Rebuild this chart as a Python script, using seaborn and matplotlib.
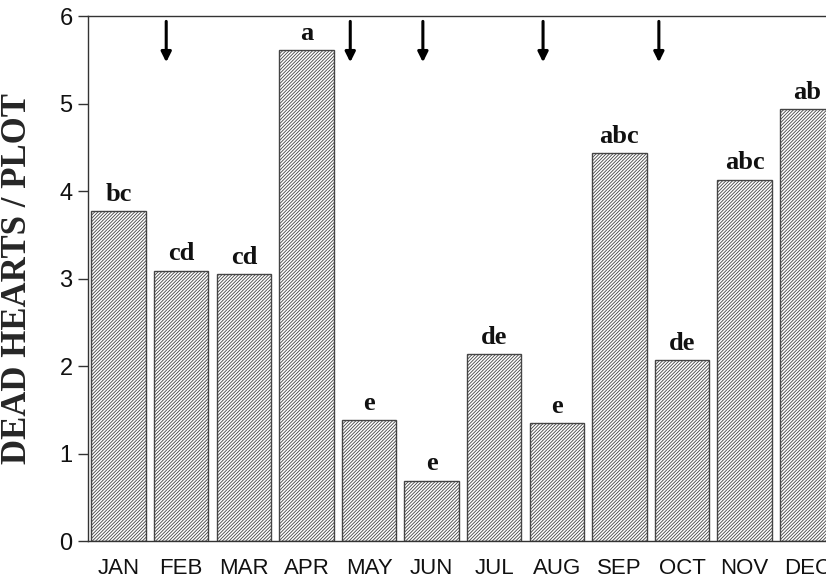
import matplotlib
matplotlib.use("Agg")
import matplotlib.pyplot as plt
import seaborn as sns
import pandas as pd

months = ["JAN", "FEB", "MAR", "APR", "MAY", "JUN", "JUL", "AUG", "SEP", "OCT", "NOV", "DEC"]
dead_hearts = [3.77, 3.09, 3.05, 5.61, 1.38, 0.69, 2.14, 1.35, 4.43, 2.07, 4.13, 4.94]
letters = ["bc", "cd", "cd", "a", "e", "e", "de", "e", "abc", "de", "abc", "ab"]
# treatment dates marked by arrows (position along month axis)
arrow_pos = [0.76, 3.70, 4.86, 6.78, 8.63]

sns.set_theme(style="white")
plt.rcParams["hatch.linewidth"] = 0.6
plt.rcParams["hatch.color"] = "#444444"

df = pd.DataFrame({"month": months, "value": dead_hearts})

fig = plt.figure(figsize=(8.26, 5.8), dpi=100)
ax = fig.add_axes([0.1065, 0.0672, 0.8935, 0.9052])

sns.barplot(data=df, x="month", y="value", color="white", width=0.87,
            edgecolor="#444444", linewidth=1.0, ax=ax)
for p in ax.patches:
    p.set_hatch("//////////")

# significance letters
for i, (v, lab) in enumerate(zip(dead_hearts, letters)):
    ax.text(i, v + 0.06, lab, ha="center", va="bottom", fontsize=19,
            fontweight="bold", family="Liberation Serif", color="#111111")

# arrows from the top
for xp in arrow_pos:
    ax.annotate("", xy=(xp, 5.44), xytext=(xp, 5.97),
                arrowprops=dict(arrowstyle="-|>,head_width=0.25,head_length=0.5",
                                color="black", lw=2.2))

ax.set_xlim(-0.49, 11.3)
ax.set_ylim(0, 6)
ax.set_yticks([0, 1, 2, 3, 4, 5, 6])
ax.set_xlabel("")
ax.set_ylabel("DEAD HEARTS / PLOT", fontsize=25, fontweight="bold",
              family="Liberation Serif", labelpad=18)

ax.tick_params(axis="y", left=True, direction="out", length=7, width=1,
               color="#333333", labelsize=17, pad=4)
ax.tick_params(axis="x", length=0, labelsize=16, pad=12)
for lab in ax.get_xticklabels() + ax.get_yticklabels():
    lab.set_family("Liberation Sans")
    lab.set_color("#111111")

ax.spines["right"].set_visible(False)
for s in ["left", "top", "bottom"]:
    ax.spines[s].set_color("#333333")
    ax.spines[s].set_linewidth(1.0)

fig.savefig("out.png", dpi=100)
